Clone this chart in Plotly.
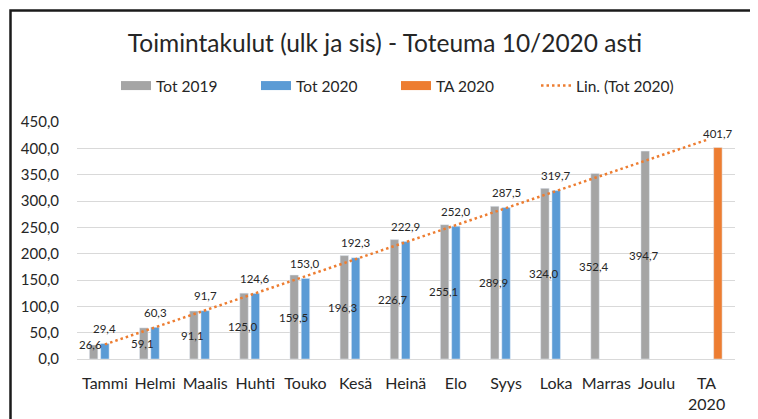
import numpy as np
import plotly.graph_objects as go

# ---- data ----
categories = ["Tammi", "Helmi", "Maalis", "Huhti", "Touko", "Kesä", "Heinä",
              "Elo", "Syys", "Loka", "Marras", "Joulu", "TA<br>2020"]
tot2019 = [26.6, 59.1, 91.1, 125.0, 159.5, 196.3, 226.7, 255.1, 289.9, 324.0,
           352.4, 394.7, None]
tot2020 = [29.4, 60.3, 91.7, 124.6, 153.0, 192.3, 222.9, 252.0, 287.5, 319.7,
           None, None, None]
ta2020 = [None] * 12 + [401.7]
y_ticks = [0, 50, 100, 150, 200, 250, 300, 350, 400, 450]

title_text = "Toimintakulut (ulk ja sis) - Toteuma 10/2020 asti"

# ---- colours / layout constants ----
C19 = "#A5A5A5"
C20 = "#5B9BD5"
CTA = "#ED7D31"
OFF = 8                       # page body margin offset
W, H = 758 - OFF, 419 - OFF
L, R, T, B = 77 - OFF, 735 - OFF, 122 - OFF, 359 - OFF
FONT = "Lato"
TXT = "#262626"

n = len(categories)
cat_px = (R - L) / n
bargap = 0.325
slot_px = cat_px * (1 - bargap) / 3


def fmt(v):
    return f"{v:.1f}".replace(".", ",")


# linear trendline of Tot 2020 (Excel "Lin." trendline), extended to all categories
xi = np.array([i + 1 for i, v in enumerate(tot2020) if v is not None], dtype=float)
yi = np.array([v for v in tot2020 if v is not None], dtype=float)
slope, intercept = np.polyfit(xi, yi, 1)
trend = [slope * (i + 1) + intercept for i in range(n)]

fig = go.Figure()
fig.add_trace(go.Bar(x=categories, y=tot2019, name="Tot 2019", marker_color=C19,
                     showlegend=False))
fig.add_trace(go.Bar(x=categories, y=tot2020, name="Tot 2020", marker_color=C20,
                     showlegend=False))
fig.add_trace(go.Bar(x=categories, y=ta2020, name="TA 2020", marker_color=CTA,
                     showlegend=False))

# legend entries (wide swatches like the original)
for name, col in [("Tot 2019", C19), ("Tot 2020", C20), ("TA 2020", CTA)]:
    fig.add_trace(go.Scatter(x=[None], y=[None], mode="lines", name=name,
                             line=dict(color=col, width=9)))

fig.add_trace(go.Scatter(x=categories, y=trend, mode="lines", name="Lin. (Tot 2020)",
                         line=dict(color=CTA, width=2.5, dash="2.5px,3px"),
                         hoverinfo="skip"))

# data labels
ann = []
for c, v in zip(categories, tot2019):
    if v is not None:
        ann.append(dict(x=c, y=max(v / 2, 28), text=fmt(v), showarrow=False,
                        xshift=-slot_px - (3 if v < 30 else 1), yanchor="middle",
                        font=dict(family=FONT, size=11.5, color=TXT)))
for c, v in zip(categories, tot2020):
    if v is not None:
        ann.append(dict(x=c, y=v, text=fmt(v), showarrow=False, yshift=15,
                        yanchor="middle", font=dict(family=FONT, size=11.5, color=TXT)))
for c, v in zip(categories, ta2020):
    if v is not None:
        ann.append(dict(x=c, y=v, text=fmt(v), showarrow=False, yshift=14,
                        xshift=slot_px, yanchor="middle",
                        font=dict(family=FONT, size=11.5, color=TXT)))

pw, ph = R - L, B - T
border = dict(type="rect", xref="paper", yref="paper",
              x0=(10.5 - OFF - L) / pw, x1=(756 - OFF - L) / pw,
              y0=(B - 430) / ph, y1=(B - (10.5 - OFF)) / ph,
              line=dict(color="#1a1a1a", width=2.5), fillcolor="rgba(0,0,0,0)",
              layer="above")

fig.update_layout(
    width=W, height=H,
    margin=dict(l=L, r=W - R, t=T, b=H - B, pad=0, autoexpand=False),
    paper_bgcolor="white", plot_bgcolor="white",
    separators=", ",
    barmode="group", bargap=bargap, bargroupgap=0.25,
    font=dict(family=FONT, color=TXT),
    title=dict(text=title_text, x=(385 - OFF) / W, xref="container", xanchor="center",
               y=1 - (43 - OFF) / H, yref="container", yanchor="middle",
               font=dict(family=FONT, size=24.5, color=TXT)),
    legend=dict(orientation="h", xref="container", x=(116 - OFF) / W, xanchor="left",
                yref="container", y=1 - (86 - OFF) / H, yanchor="middle",
                font=dict(family=FONT, size=15.5, color=TXT),
                entrywidth=95, entrywidthmode="pixels",
                bgcolor="rgba(0,0,0,0)"),
    annotations=ann,
    shapes=[border],
    hovermode=False,
)
fig.update_xaxes(type="category", showgrid=False, showline=True, linecolor="#D9D9D9",
                 linewidth=1, ticks="outside", ticklen=10, tickcolor="rgba(0,0,0,0)",
                 tickfont=dict(family=FONT, size=16, color=TXT), automargin=False)
fig.update_yaxes(range=[0, 450], tickvals=y_ticks, tickformat=".1f", showgrid=True,
                 gridcolor="#D9D9D9", gridwidth=1, zeroline=False, showline=False,
                 ticks="outside", ticklen=14, tickcolor="rgba(0,0,0,0)",
                 tickfont=dict(family=FONT, size=15, color=TXT), automargin=False)

fig.write_html("out.html")
